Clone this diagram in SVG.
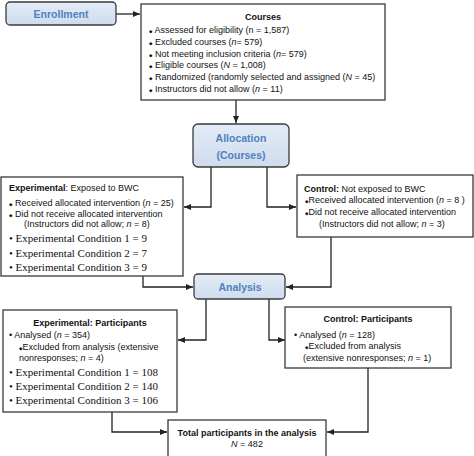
<svg xmlns="http://www.w3.org/2000/svg" width="474" height="456" viewBox="0 0 474 456">
<style>
.box{fill:#fff;stroke:#3a3a3a;stroke-width:1.3}
.rbox{fill:url(#g);stroke:#3a3a3a;stroke-width:1.3}
.ttl{font-family:"Liberation Sans",Arial,sans-serif;font-weight:bold;font-size:10.5px;fill:#4f81bd;text-anchor:middle}
.t{font-family:"Liberation Sans",Arial,sans-serif;font-size:9px;fill:#111}
.s{font-family:"Liberation Serif","Times New Roman",serif;font-size:11px;fill:#111}
.bd{font-weight:bold}
.i{font-style:italic}
.sb{font-family:"DejaVu Sans",sans-serif;font-size:4.5px;fill:#111}
.c{text-anchor:middle}
.ln{fill:none;stroke:#222;stroke-width:1.3}
</style>
<defs>
<linearGradient id="g" x1="0" y1="0" x2="0" y2="1">
<stop offset="0" stop-color="#e3ebf6"/>
<stop offset="1" stop-color="#cfdcee"/>
</linearGradient>
<marker id="a" markerUnits="userSpaceOnUse" markerWidth="7" markerHeight="6" refX="7" refY="3" orient="auto">
<path d="M0,0 L7,3 L0,6 Z" fill="#222"/>
</marker>
</defs>

<g id="connectors">
<path class="ln" d="M116,14 H140" marker-end="url(#a)"/>
<path class="ln" d="M236,100 V123" marker-end="url(#a)"/>
<path class="ln" d="M211,167 V207 H184" marker-end="url(#a)"/>
<path class="ln" d="M267,167 V207 H296" marker-end="url(#a)"/>
<path class="ln" d="M143,276 V287 H193" marker-end="url(#a)"/>
<path class="ln" d="M331,237 V287 H286" marker-end="url(#a)"/>
<path class="ln" d="M206,299 V340 H178" marker-end="url(#a)"/>
<path class="ln" d="M269,299 V340 H285" marker-end="url(#a)"/>
<path class="ln" d="M112,412 V432 H167" marker-end="url(#a)"/>
<path class="ln" d="M368,368 V432 H327" marker-end="url(#a)"/>
</g>

<g id="enrollment">
<rect class="rbox" x="6" y="2" width="110" height="23" rx="4"/>
<text class="ttl" x="61" y="18">Enrollment</text>
</g>

<g id="courses">
<rect class="box" x="141" y="4" width="244" height="96"/>
<text class="t bd c" x="263" y="19.5">Courses</text>
<text class="t" x="149" y="33"><tspan class="sb">◆</tspan> Assessed for eligibility (n = 1,587)</text>
<text class="t" x="149" y="45"><tspan class="sb">◆</tspan> Excluded courses (<tspan class="i">n</tspan>= 579)</text>
<text class="t" x="149" y="56.5"><tspan class="sb">◆</tspan> Not meeting inclusion criteria (<tspan class="i">n</tspan>= 579)</text>
<text class="t" x="149" y="68"><tspan class="sb">◆</tspan> Eligible courses (<tspan class="i">N</tspan> = 1,008)</text>
<text class="t" x="149" y="80"><tspan class="sb">◆</tspan> Randomized (randomly selected and assigned (<tspan class="i">N</tspan> = 45)</text>
<text class="t" x="149" y="92"><tspan class="sb">◆</tspan> Instructors did not allow (<tspan class="i">n</tspan> = 11)</text>
</g>

<g id="allocation">
<rect class="rbox" x="193" y="124" width="96" height="43" rx="5"/>
<text class="ttl" x="241" y="142">Allocation</text>
<text class="ttl" x="241" y="159">(Courses)</text>
</g>

<g id="experimental">
<rect class="box" x="1" y="177" width="182" height="99"/>
<text class="t" x="9" y="190.5"><tspan class="bd">Experimental</tspan>: Exposed to BWC</text>
<text class="t" x="9" y="205.5"><tspan class="sb">◆</tspan> Received allocated intervention (<tspan class="i">n</tspan> = 25)</text>
<text class="t" x="9" y="216.5"><tspan class="sb">◆</tspan> Did not receive allocated intervention</text>
<text class="t" x="24" y="226.5">(Instructors did not allow; <tspan class="i">n</tspan> = 8)</text>
<text class="s" x="9" y="242">•  Experimental Condition 1 = 9</text>
<text class="s" x="9" y="257">•  Experimental Condition 2 = 7</text>
<text class="s" x="9" y="271">•  Experimental Condition 3 = 9</text>
</g>

<g id="control">
<rect class="box" x="297" y="175" width="176" height="62"/>
<text class="t" x="304" y="191.5"><tspan class="bd">Control:</tspan> Not exposed to BWC</text>
<text class="t" x="305" y="203"><tspan class="sb">◆</tspan>Received allocated intervention (<tspan class="i">n</tspan> = 8 )</text>
<text class="t" x="305" y="215"><tspan class="sb">◆</tspan>Did not receive allocated intervention</text>
<text class="t" x="319" y="227">(Instructors did not allow; <tspan class="i">n</tspan> =  3)</text>
</g>

<g id="analysis">
<rect class="rbox" x="194" y="274" width="91" height="25" rx="4"/>
<text class="ttl" x="240" y="290.5">Analysis</text>
</g>

<g id="exp-participants">
<rect class="box" x="3" y="310" width="174" height="102"/>
<text class="t bd c" x="90" y="326">Experimental: Participants</text>
<text class="t" x="9" y="337.5">•  Analysed (<tspan class="i">n</tspan> = 354)</text>
<text class="t" x="19" y="350"><tspan class="sb">◆</tspan>Excluded from analysis (extensive</text>
<text class="t" x="19" y="361">nonresponses; <tspan class="i">n</tspan> = 4)</text>
<text class="s" x="9" y="376">•  Experimental Condition 1 = 108</text>
<text class="s" x="9" y="390">•  Experimental Condition 2 = 140</text>
<text class="s" x="9" y="404">•  Experimental Condition 3 = 106</text>
</g>

<g id="ctrl-participants">
<rect class="box" x="285" y="307" width="166" height="61"/>
<text class="t bd c" x="368" y="322">Control: Participants</text>
<text class="t" x="294" y="337.5">•  Analysed (<tspan class="i">n</tspan> = 128)</text>
<text class="t" x="305" y="348.5"><tspan class="sb">◆</tspan>Excluded from analysis</text>
<text class="t" x="303" y="361">(extensive nonresponses; <tspan class="i">n</tspan> = 1)</text>
</g>

<g id="total">
<rect class="box" x="168" y="420" width="158" height="42"/>
<text class="t bd c" x="247" y="436">Total participants in the analysis</text>
<text class="t c" x="247" y="446.5"><tspan class="i">N</tspan> = 482</text>
</g>
</svg>
